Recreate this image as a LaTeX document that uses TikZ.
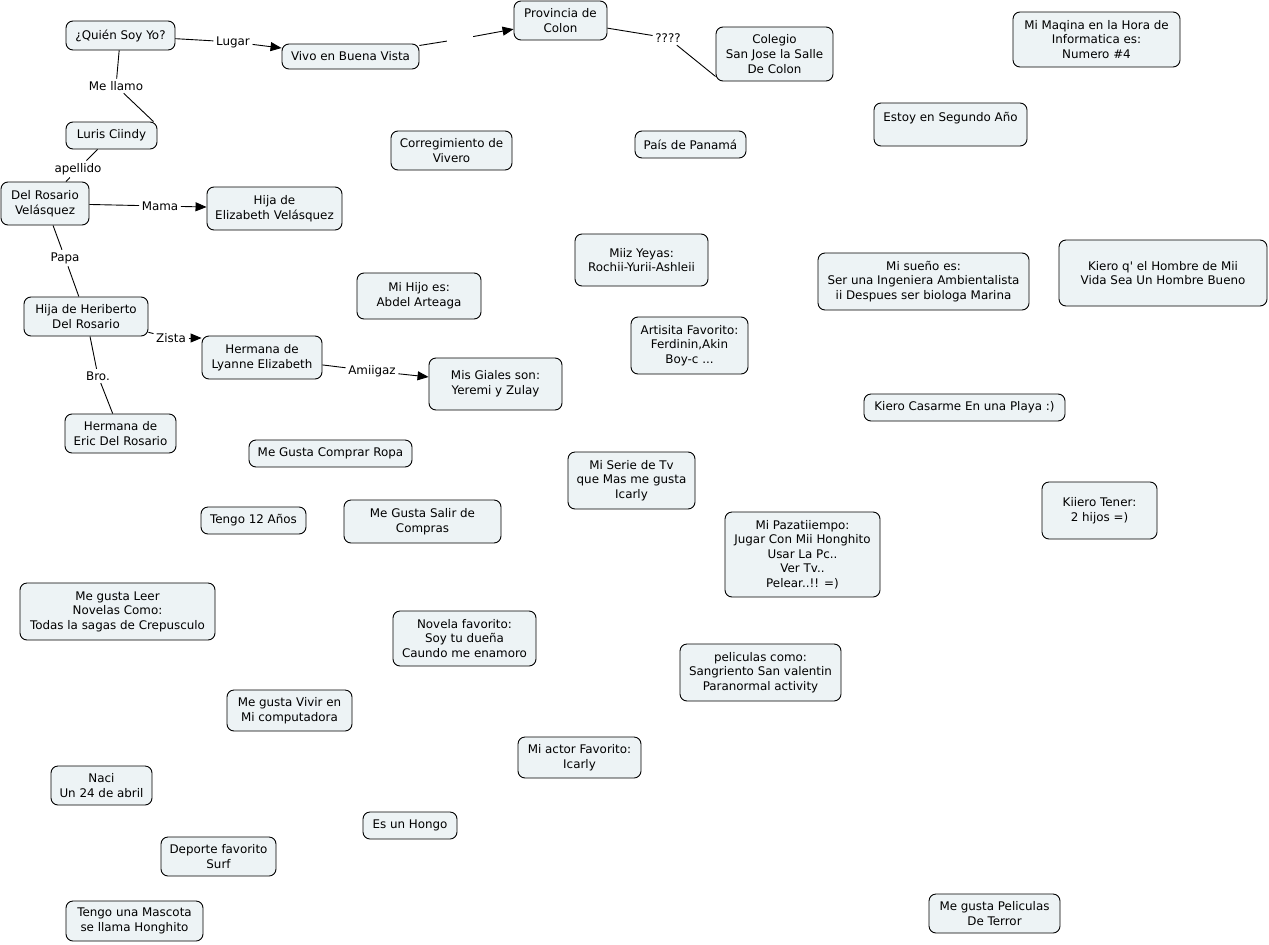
\documentclass[tikz,border=0pt]{standalone}
\usepackage{fontspec}
\setmainfont{DejaVu Sans}
\usetikzlibrary{arrows.meta}
\definecolor{boxfill}{HTML}{EDF3F5}
\tikzset{
  cbox/.style={draw=black, line width=0.9pt, fill=boxfill, rounded corners=7pt,
    align=center, inner sep=2pt, font=\fontsize{11.9}{14.6}\selectfont},
  lab/.style={inner sep=2.5pt, font=\fontsize{11.9}{14.6}\selectfont},
  conn/.style={line width=0.9pt},
  arr/.style={line width=0.9pt, -{Triangle[length=11pt,width=9pt]}},
}
\newcommand{\cnode}[6]{\node[cbox, minimum width=#4pt, minimum height=#5pt] (#1) at (#2,#3) {#6};}
\begin{document}
\begin{tikzpicture}[x=1pt,y=-1pt]
\useasboundingbox[fill=white] (0,0) rectangle (1269,945);
\cnode{quien}{120.5}{35.5}{109}{29}{¿Quién Soy Yo?}
\cnode{vivo}{350.5}{56.5}{137}{25}{Vivo en Buena Vista}
\cnode{prov}{560.5}{20.5}{93}{39}{Provincia de\\Colon}
\cnode{coleg}{774.5}{54}{117}{54}{Colegio\\San Jose la Salle\\De Colon}
\cnode{maqina}{1096.5}{39.5}{167}{55}{Mi Maqina en la Hora de\\Informatica es:\\Numero \#4}
\cnode{estoy}{950.5}{124.5}{153}{43}{Estoy en Segundo Año\\ \mbox{}}
\cnode{luris}{111.5}{135.5}{91}{27}{Luris Ciindy}
\cnode{correg}{451.5}{150.5}{121}{39}{Corregimiento de\\Vivero}
\cnode{pais}{690.5}{144.5}{111}{27}{País de Panamá}
\cnode{delros}{45}{203.5}{88}{43}{Del Rosario\\Velásquez}
\cnode{hijaeliz}{274.5}{208.5}{135}{43}{Hija de\\Elizabeth Velásquez}
\cnode{miiz}{641.5}{260}{133}{52}{Miiz Yeyas:\\Rochii-Yurii-Ashleii}
\cnode{sueno}{923.5}{281.5}{211}{57}{Mi sueño es:\\Ser una Ingeniera Ambientalista\\ii Despues ser biologa Marina}
\cnode{kiero}{1163}{273}{208}{66}{Kiero q\textquotesingle{} el Hombre de Mii\\Vida Sea Un Hombre Bueno}
\cnode{hijo}{419}{296}{124}{46}{Mi Hijo es:\\Abdel Arteaga}
\cnode{heriberto}{86}{316.5}{124}{39}{Hija de Heriberto\\Del Rosario}
\cnode{artista}{689.5}{345.5}{117}{57}{Artisita Favorito:\\Ferdinin,Akin\\Boy-c ...}
\cnode{lyanne}{262}{357.5}{120}{43}{Hermana de\\Lyanne Elizabeth}
\cnode{giales}{495.5}{384}{133}{52}{Mis Giales son:\\Yeremi y Zulay}
\cnode{casarme}{964.5}{407.5}{201}{27}{Kiero Casarme En una Playa :)}
\cnode{eric}{120.5}{433.5}{111}{39}{Hermana de\\Eric Del Rosario}
\cnode{ropa}{330.5}{453.5}{163}{27}{Me Gusta Comprar Ropa}
\cnode{serie}{631.5}{480.5}{127}{57}{Mi Serie de Tv\\que Mas me gusta\\Icarly}
\cnode{hijos}{1099.5}{510.5}{115}{57}{Kiiero Tener:\\2 hijos =)}
\cnode{doce}{253.5}{520.5}{105}{27}{Tengo 12 Años}
\cnode{salir}{422.5}{521.5}{157}{43}{Me Gusta Salir de\\Compras}
\cnode{pasatiempo}{802.5}{554.5}{155}{85}{Mi Pazatiiempo:\\Jugar Con Mii Honghito\\Usar La Pc..\\Ver Tv..\\Pelear..!! =)}
\cnode{leer}{117.5}{611.5}{195}{57}{Me gusta Leer\\Novelas Como:\\Todas la sagas de Crepusculo}
\cnode{novela}{464.5}{638.5}{143}{55}{Novela favorito:\\Soy tu dueña\\Caundo me enamoro}
\cnode{peliculas}{760.5}{672.5}{161}{57}{peliculas como:\\Sangriento San valentin\\Paranormal activity}
\cnode{vivir}{289.5}{710.5}{125}{41}{Me gusta Vivir en\\Mi computadora}
\cnode{actor}{579.5}{757.5}{123}{41}{Mi actor Favorito:\\Icarly}
\cnode{naci}{101.5}{785.5}{101}{39}{Naci\\Un 24 de abril}
\cnode{hongo}{410}{825.5}{94}{27}{Es un Hongo}
\cnode{deporte}{218.5}{856.5}{115}{39}{Deporte favorito\\Surf}
\cnode{mascota}{134.5}{921}{137}{40}{Tengo una Mascota\\se llama Honghito}
\cnode{terror}{994.5}{913.5}{131}{39}{Me gusta Peliculas\\De Terror}
% linking phrases
\node[lab] (lugar) at (233,42) {Lugar};
\node[lab, minimum width=26pt, minimum height=8pt] (lv) at (460,39) {};
\node[lab] (qq) at (668,38) {????};
\node[lab] (llamo) at (116,86) {Me llamo};
\node[lab] (apellido) at (78,169) {apellido};
\node[lab] (mama) at (160,206) {Mama};
\node[lab] (papa) at (65,258) {Papa};
\node[lab] (zista) at (171,338) {Zista};
\node[lab] (bro) at (98,376) {Bro.};
\node[lab] (amiigaz) at (372,371) {Amiigaz};
% connectors
\draw[conn] (quien) -- (lugar);
\draw[arr] (lugar) -- (vivo);
\draw[conn] (vivo) -- (lv);
\draw[arr] (lv) -- (prov);
\draw[conn] (prov) -- (qq);
\draw[conn] (qq) -- ([yshift=5pt]coleg.south west);
\draw[conn] (quien) -- (llamo);
\draw[conn] (llamo) -- ([xshift=-4pt]luris.north east);
\draw[conn] (luris) -- (apellido);
\draw[conn] (apellido) -- (delros);
\draw[conn] (delros) -- (mama);
\draw[arr] (mama) -- (hijaeliz);
\draw[conn] (delros) -- (papa);
\draw[conn] (papa) -- (heriberto);
\draw[conn] (heriberto) -- (zista);
\draw[arr] (zista) -- (zista -| lyanne.west);
\draw[conn] (heriberto) -- (bro);
\draw[conn] (bro) -- (eric);
\draw[conn] (lyanne) -- (amiigaz);
\draw[arr] (amiigaz) -- (giales);
\end{tikzpicture}
\end{document}
